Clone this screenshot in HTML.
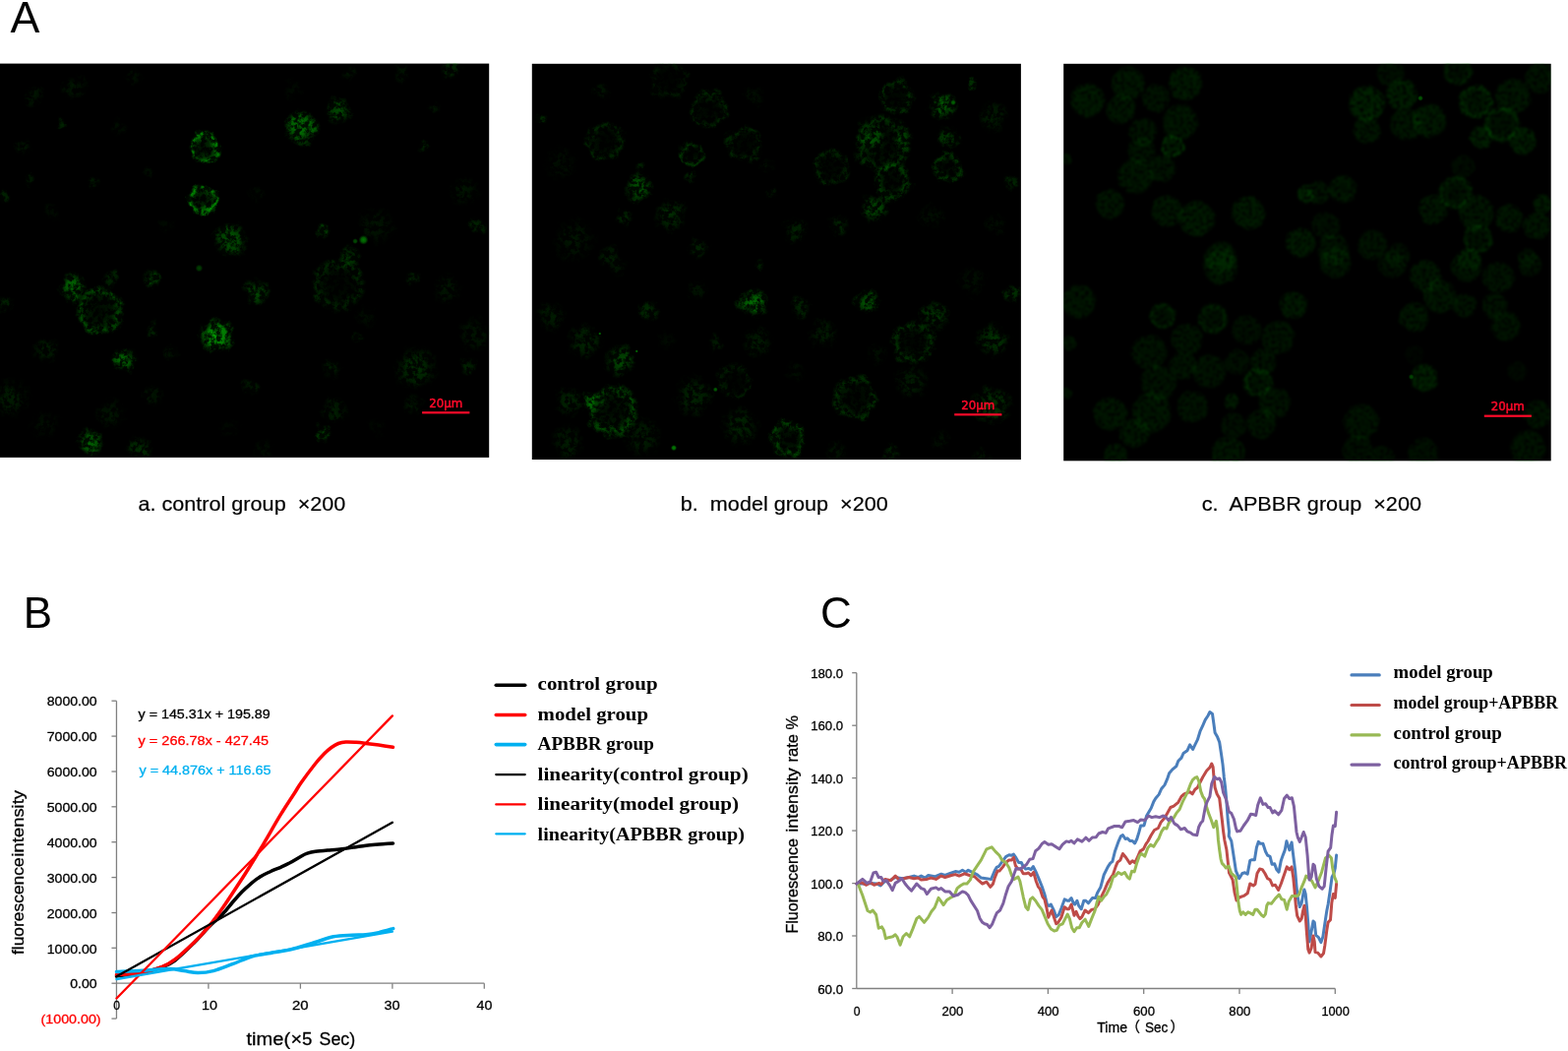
<!DOCTYPE html>
<html lang="en"><head><meta charset="utf-8"><title>Figure</title>
<style>
html,body{margin:0;padding:0;background:#fff;}
body{width:1594px;height:1068px;overflow:hidden;}
svg{display:block;}
text{font-family:"Liberation Sans",sans-serif;fill:#000;}
.w{stroke:#000;stroke-width:.3px;}
.wr{fill:#ff0000;stroke:#ff0000;stroke-width:.3px;}
.wc{fill:#00b0f0;stroke:#00b0f0;stroke-width:.3px;}
.ser{font-family:"Liberation Serif",serif;font-weight:bold;}
.sb{font-family:"DejaVu Sans","Liberation Sans",sans-serif;fill:#ff0a2a;stroke:#ff0a2a;stroke-width:.5px;font-size:11.4px;}
.cjk{font-family:"Liberation Sans","Noto Sans CJK SC",sans-serif;}
</style></head><body>
<svg width="1594" height="1068" viewBox="0 0 1594 1068">
<defs>
<filter id="speck" x="0" y="60" width="1040" height="410" filterUnits="userSpaceOnUse" color-interpolation-filters="sRGB">
<feTurbulence type="fractalNoise" baseFrequency="0.07" numOctaves="2" seed="4" result="lo"/>
<feDisplacementMap in="SourceGraphic" in2="lo" scale="12" xChannelSelector="R" yChannelSelector="G" result="d"/>
<feTurbulence type="fractalNoise" baseFrequency="0.2" numOctaves="4" seed="7" result="n"/>
<feColorMatrix in="n" type="matrix" values="0 0 0 0 0  0 0 0 0 0  0 0 0 0 0  0 4 0 0 -1.55" result="a"/>
<feComposite in="d" in2="a" operator="in" result="c"/>
<feColorMatrix in="d" type="matrix" values="1 0 0 0 0  0 1 0 0 0  0 0 1 0 0  0 0 0 0.14 0" result="base"/>
<feMerge result="m"><feMergeNode in="base"/><feMergeNode in="c"/></feMerge>
<feGaussianBlur in="m" stdDeviation="0.6"/>
</filter>
<filter id="soft" x="1080" y="60" width="500" height="412" filterUnits="userSpaceOnUse" color-interpolation-filters="sRGB">
<feTurbulence type="fractalNoise" baseFrequency="0.09" numOctaves="2" seed="9" result="lo"/>
<feDisplacementMap in="SourceGraphic" in2="lo" scale="4" xChannelSelector="R" yChannelSelector="G" result="d"/>
<feTurbulence type="fractalNoise" baseFrequency="0.3" numOctaves="3" seed="11" result="n"/>
<feColorMatrix in="n" type="matrix" values="0 0 0 0 0  0 0 0 0 0  0 0 0 0 0  0 3.2 0 0 -0.85" result="a"/>
<feComposite in="d" in2="a" operator="in" result="c"/>
<feGaussianBlur in="c" stdDeviation="0.8"/>
</filter>
<radialGradient id="blob"><stop offset="0" stop-color="#02a002" stop-opacity="1"/><stop offset="0.5" stop-color="#029002" stop-opacity="0.8"/><stop offset="1" stop-color="#016001" stop-opacity="0"/></radialGradient>
<radialGradient id="ring"><stop offset="0" stop-color="#015a01" stop-opacity="0.2"/><stop offset="0.5" stop-color="#027402" stop-opacity="0.4"/><stop offset="0.78" stop-color="#02a002" stop-opacity="1"/><stop offset="1" stop-color="#016001" stop-opacity="0"/></radialGradient>
<radialGradient id="disc"><stop offset="0" stop-color="#028c02" stop-opacity="0.6"/><stop offset="0.65" stop-color="#028c02" stop-opacity="0.7"/><stop offset="0.85" stop-color="#028c02" stop-opacity="0.62"/><stop offset="1" stop-color="#016001" stop-opacity="0"/></radialGradient>
<radialGradient id="dring"><stop offset="0" stop-color="#028c02" stop-opacity="0.45"/><stop offset="0.6" stop-color="#028c02" stop-opacity="0.6"/><stop offset="0.82" stop-color="#02a002" stop-opacity="1"/><stop offset="1" stop-color="#016001" stop-opacity="0"/></radialGradient>
<clipPath id="cp1"><rect x="0" y="64.6" width="497.2" height="400.3"/></clipPath>
<clipPath id="cp2"><rect x="540.8" y="64.8" width="497.1" height="402.2"/></clipPath>
<clipPath id="cp3"><rect x="1081.2" y="64.8" width="495.5" height="403.5"/></clipPath>
</defs>
<rect x="0" y="0" width="1594" height="1068" fill="#fff"/>
<rect x="0" y="64.6" width="497.2" height="400.3" fill="#000"/>
<rect x="540.8" y="64.8" width="497.1" height="402.2" fill="#000"/>
<rect x="1081.2" y="64.8" width="495.5" height="403.5" fill="#000"/>
<g clip-path="url(#cp1)"><g filter="url(#speck)"><circle cx="207.1" cy="150.6" r="18.0" fill="url(#ring)" opacity="0.75"/><circle cx="205.2" cy="203.3" r="16.8" fill="url(#ring)" opacity="0.81"/><circle cx="235.3" cy="244.7" r="20.4" fill="url(#blob)" opacity="0.51"/><circle cx="33.9" cy="96.0" r="12.0" fill="url(#blob)" opacity="0.12"/><circle cx="75.3" cy="88.5" r="14.4" fill="url(#blob)" opacity="0.12"/><circle cx="62.1" cy="125.2" r="6.0" fill="url(#blob)" opacity="0.21"/><circle cx="22.6" cy="148.7" r="9.6" fill="url(#blob)" opacity="0.12"/><circle cx="30.1" cy="182.6" r="7.2" fill="url(#blob)" opacity="0.16"/><circle cx="96.0" cy="186.4" r="7.2" fill="url(#blob)" opacity="0.16"/><circle cx="4.7" cy="198.6" r="7.2" fill="url(#blob)" opacity="0.21"/><circle cx="120.5" cy="129.9" r="9.6" fill="url(#blob)" opacity="0.08"/><circle cx="135.5" cy="79.1" r="9.6" fill="url(#blob)" opacity="0.08"/><circle cx="150.6" cy="177.0" r="7.2" fill="url(#blob)" opacity="0.08"/><circle cx="52.7" cy="216.5" r="9.6" fill="url(#blob)" opacity="0.08"/><circle cx="169.4" cy="229.7" r="9.6" fill="url(#blob)" opacity="0.06"/><circle cx="306.5" cy="129.9" r="19.2" fill="url(#blob)" opacity="0.75"/><circle cx="344.1" cy="112.0" r="15.6" fill="url(#blob)" opacity="0.41"/><circle cx="329.1" cy="234.4" r="9.6" fill="url(#blob)" opacity="0.41"/><circle cx="430.7" cy="148.7" r="7.2" fill="url(#blob)" opacity="0.21"/><circle cx="459.0" cy="69.6" r="12.0" fill="url(#blob)" opacity="0.21"/><circle cx="442.0" cy="109.2" r="7.2" fill="url(#blob)" opacity="0.12"/><circle cx="408.1" cy="75.3" r="9.6" fill="url(#blob)" opacity="0.12"/><circle cx="355.4" cy="75.3" r="9.6" fill="url(#blob)" opacity="0.12"/><circle cx="472.1" cy="193.9" r="16.8" fill="url(#blob)" opacity="0.12"/><circle cx="485.3" cy="229.7" r="9.6" fill="url(#blob)" opacity="0.21"/><circle cx="381.8" cy="229.7" r="21.6" fill="url(#blob)" opacity="0.12"/><circle cx="355.4" cy="261.7" r="12.0" fill="url(#blob)" opacity="0.30"/><circle cx="261.3" cy="195.8" r="9.6" fill="url(#blob)" opacity="0.08"/><circle cx="297.1" cy="90.4" r="12.0" fill="url(#blob)" opacity="0.06"/><circle cx="73.4" cy="291.4" r="15.6" fill="url(#blob)" opacity="0.63"/><circle cx="101.7" cy="315.8" r="26.4" fill="url(#ring)" opacity="0.41"/><circle cx="154.4" cy="284.8" r="10.8" fill="url(#blob)" opacity="0.41"/><circle cx="113.0" cy="282.9" r="9.6" fill="url(#blob)" opacity="0.21"/><circle cx="219.3" cy="341.2" r="19.2" fill="url(#blob)" opacity="1.00"/><circle cx="126.1" cy="365.7" r="13.2" fill="url(#blob)" opacity="0.63"/><circle cx="156.2" cy="334.7" r="9.6" fill="url(#blob)" opacity="0.21"/><circle cx="47.1" cy="355.4" r="14.4" fill="url(#blob)" opacity="0.16"/><circle cx="11.3" cy="404.3" r="21.6" fill="url(#blob)" opacity="0.16"/><circle cx="92.2" cy="449.5" r="15.6" fill="url(#blob)" opacity="0.57"/><circle cx="141.2" cy="457.0" r="14.4" fill="url(#blob)" opacity="0.26"/><circle cx="5.6" cy="308.3" r="9.6" fill="url(#blob)" opacity="0.21"/><circle cx="154.4" cy="402.4" r="12.0" fill="url(#blob)" opacity="0.12"/><circle cx="113.0" cy="421.2" r="16.8" fill="url(#blob)" opacity="0.12"/><circle cx="45.2" cy="430.7" r="16.8" fill="url(#blob)" opacity="0.08"/><circle cx="233.4" cy="434.4" r="12.0" fill="url(#blob)" opacity="0.05"/><circle cx="173.2" cy="357.2" r="9.6" fill="url(#blob)" opacity="0.12"/><circle cx="261.3" cy="297.0" r="14.4" fill="url(#blob)" opacity="0.41"/><circle cx="344.1" cy="289.5" r="28.8" fill="url(#ring)" opacity="0.21"/><circle cx="419.4" cy="281.9" r="9.6" fill="url(#blob)" opacity="0.21"/><circle cx="455.2" cy="293.2" r="16.8" fill="url(#blob)" opacity="0.12"/><circle cx="481.6" cy="340.3" r="19.2" fill="url(#blob)" opacity="0.12"/><circle cx="423.2" cy="374.2" r="24.0" fill="url(#blob)" opacity="0.26"/><circle cx="336.6" cy="376.1" r="12.0" fill="url(#blob)" opacity="0.16"/><circle cx="340.4" cy="417.5" r="14.4" fill="url(#blob)" opacity="0.16"/><circle cx="329.1" cy="440.1" r="9.6" fill="url(#blob)" opacity="0.41"/><circle cx="363.0" cy="344.1" r="7.2" fill="url(#blob)" opacity="0.16"/><circle cx="253.8" cy="393.0" r="9.6" fill="url(#blob)" opacity="0.16"/><circle cx="475.9" cy="372.3" r="9.6" fill="url(#blob)" opacity="0.21"/><circle cx="372.4" cy="321.5" r="12.0" fill="url(#blob)" opacity="0.08"/><circle cx="419.4" cy="411.8" r="12.0" fill="url(#blob)" opacity="0.12"/><circle cx="268.8" cy="457.0" r="12.0" fill="url(#blob)" opacity="0.08"/><circle cx="381.8" cy="434.4" r="12.0" fill="url(#blob)" opacity="0.05"/></g><circle cx="369.5" cy="243.8" r="5.0" fill="url(#blob)" opacity="0.75"/><circle cx="361.1" cy="245.1" r="3.0" fill="url(#blob)" opacity="0.51"/><circle cx="202.4" cy="272.5" r="4.0" fill="url(#blob)" opacity="0.41"/></g>
<g clip-path="url(#cp2)"><g filter="url(#speck)"><circle cx="649.2" cy="190.1" r="16.8" fill="url(#blob)" opacity="0.51"/><circle cx="615.3" cy="143.1" r="21.6" fill="url(#ring)" opacity="0.21"/><circle cx="679.3" cy="80.9" r="21.6" fill="url(#ring)" opacity="0.12"/><circle cx="720.7" cy="111.1" r="21.6" fill="url(#ring)" opacity="0.21"/><circle cx="703.8" cy="156.2" r="14.4" fill="url(#ring)" opacity="0.30"/><circle cx="703.8" cy="180.7" r="7.2" fill="url(#blob)" opacity="0.21"/><circle cx="756.5" cy="146.8" r="20.4" fill="url(#ring)" opacity="0.21"/><circle cx="681.2" cy="218.4" r="18.0" fill="url(#blob)" opacity="0.26"/><circle cx="634.1" cy="220.2" r="9.6" fill="url(#blob)" opacity="0.21"/><circle cx="551.3" cy="120.5" r="7.2" fill="url(#blob)" opacity="0.30"/><circle cx="570.1" cy="165.7" r="19.2" fill="url(#blob)" opacity="0.08"/><circle cx="611.5" cy="92.2" r="9.6" fill="url(#blob)" opacity="0.12"/><circle cx="583.3" cy="244.7" r="24.0" fill="url(#blob)" opacity="0.12"/><circle cx="709.4" cy="254.1" r="12.0" fill="url(#blob)" opacity="0.21"/><circle cx="619.1" cy="259.8" r="12.0" fill="url(#blob)" opacity="0.16"/><circle cx="651.1" cy="169.4" r="6.0" fill="url(#blob)" opacity="0.21"/><circle cx="779.1" cy="169.4" r="9.6" fill="url(#blob)" opacity="0.08"/><circle cx="784.7" cy="195.8" r="7.2" fill="url(#blob)" opacity="0.12"/><circle cx="765.9" cy="97.9" r="12.0" fill="url(#blob)" opacity="0.08"/><circle cx="911.5" cy="98.8" r="19.2" fill="url(#ring)" opacity="0.26"/><circle cx="958.2" cy="107.8" r="16.8" fill="url(#blob)" opacity="0.51"/><circle cx="897.1" cy="145.5" r="31.2" fill="url(#ring)" opacity="0.26"/><circle cx="886.3" cy="141.9" r="15.6" fill="url(#blob)" opacity="0.46"/><circle cx="915.1" cy="141.9" r="10.8" fill="url(#blob)" opacity="0.30"/><circle cx="963.6" cy="140.1" r="14.4" fill="url(#blob)" opacity="0.35"/><circle cx="844.9" cy="170.7" r="20.4" fill="url(#ring)" opacity="0.21"/><circle cx="907.9" cy="185.1" r="20.4" fill="url(#ring)" opacity="0.32"/><circle cx="963.6" cy="170.7" r="16.8" fill="url(#ring)" opacity="0.30"/><circle cx="889.9" cy="212.0" r="16.8" fill="url(#blob)" opacity="0.41"/><circle cx="1008.5" cy="118.5" r="16.8" fill="url(#blob)" opacity="0.16"/><circle cx="1028.3" cy="185.1" r="9.6" fill="url(#blob)" opacity="0.21"/><circle cx="809.0" cy="233.6" r="14.4" fill="url(#blob)" opacity="0.21"/><circle cx="853.9" cy="228.2" r="12.0" fill="url(#blob)" opacity="0.21"/><circle cx="947.4" cy="219.2" r="14.4" fill="url(#blob)" opacity="0.08"/><circle cx="988.8" cy="86.2" r="6.0" fill="url(#blob)" opacity="0.30"/><circle cx="1012.1" cy="228.2" r="14.4" fill="url(#blob)" opacity="0.08"/><circle cx="765.9" cy="308.3" r="16.8" fill="url(#blob)" opacity="0.69"/><circle cx="630.4" cy="366.7" r="18.0" fill="url(#blob)" opacity="0.41"/><circle cx="622.8" cy="417.5" r="28.8" fill="url(#ring)" opacity="0.41"/><circle cx="602.1" cy="408.1" r="12.0" fill="url(#blob)" opacity="0.41"/><circle cx="594.6" cy="347.8" r="19.2" fill="url(#blob)" opacity="0.21"/><circle cx="558.8" cy="321.5" r="16.8" fill="url(#blob)" opacity="0.16"/><circle cx="658.6" cy="315.8" r="12.0" fill="url(#blob)" opacity="0.26"/><circle cx="705.7" cy="402.4" r="21.6" fill="url(#blob)" opacity="0.21"/><circle cx="747.1" cy="387.4" r="19.2" fill="url(#ring)" opacity="0.16"/><circle cx="752.7" cy="432.5" r="21.6" fill="url(#blob)" opacity="0.21"/><circle cx="653.0" cy="443.8" r="21.6" fill="url(#blob)" opacity="0.16"/><circle cx="577.7" cy="449.5" r="19.2" fill="url(#blob)" opacity="0.16"/><circle cx="769.7" cy="347.8" r="16.8" fill="url(#blob)" opacity="0.16"/><circle cx="728.3" cy="347.8" r="9.6" fill="url(#blob)" opacity="0.16"/><circle cx="709.4" cy="295.1" r="12.0" fill="url(#blob)" opacity="0.12"/><circle cx="626.6" cy="270.6" r="12.0" fill="url(#blob)" opacity="0.12"/><circle cx="773.4" cy="268.8" r="6.0" fill="url(#blob)" opacity="0.21"/><circle cx="677.4" cy="345.9" r="12.0" fill="url(#blob)" opacity="0.06"/><circle cx="577.7" cy="408.1" r="16.8" fill="url(#blob)" opacity="0.21"/><circle cx="882.2" cy="306.4" r="14.4" fill="url(#blob)" opacity="0.51"/><circle cx="950.0" cy="319.6" r="15.6" fill="url(#blob)" opacity="0.35"/><circle cx="929.3" cy="347.8" r="24.0" fill="url(#ring)" opacity="0.26"/><circle cx="1010.3" cy="345.9" r="19.2" fill="url(#blob)" opacity="0.30"/><circle cx="1029.1" cy="298.9" r="9.6" fill="url(#blob)" opacity="0.30"/><circle cx="869.1" cy="404.3" r="24.0" fill="url(#ring)" opacity="0.26"/><circle cx="927.4" cy="387.4" r="19.2" fill="url(#blob)" opacity="0.16"/><circle cx="1008.4" cy="411.8" r="21.6" fill="url(#blob)" opacity="0.30"/><circle cx="801.3" cy="445.7" r="20.4" fill="url(#ring)" opacity="0.39"/><circle cx="814.5" cy="312.1" r="12.0" fill="url(#blob)" opacity="0.21"/><circle cx="837.1" cy="338.4" r="16.8" fill="url(#blob)" opacity="0.16"/><circle cx="808.8" cy="378.0" r="12.0" fill="url(#blob)" opacity="0.08"/><circle cx="906.7" cy="460.8" r="9.6" fill="url(#blob)" opacity="0.21"/><circle cx="997.1" cy="462.7" r="9.6" fill="url(#blob)" opacity="0.12"/><circle cx="850.2" cy="458.9" r="12.0" fill="url(#blob)" opacity="0.12"/><circle cx="987.7" cy="285.7" r="16.8" fill="url(#blob)" opacity="0.08"/><circle cx="955.7" cy="445.7" r="12.0" fill="url(#blob)" opacity="0.08"/><circle cx="891.7" cy="359.1" r="12.0" fill="url(#blob)" opacity="0.08"/></g><circle cx="969.0" cy="104.2" r="3.0" fill="url(#blob)" opacity="0.63"/><circle cx="605.9" cy="410.0" r="4.0" fill="url(#blob)" opacity="0.41"/><circle cx="727.3" cy="395.8" r="2.6" fill="url(#blob)" opacity="0.63"/><circle cx="685.0" cy="455.1" r="3.2" fill="url(#blob)" opacity="0.81"/><circle cx="609.7" cy="339.0" r="1.6" fill="url(#blob)" opacity="0.75"/><circle cx="647.3" cy="356.9" r="1.6" fill="url(#blob)" opacity="0.75"/></g>
<g clip-path="url(#cp3)"><g filter="url(#soft)"><circle cx="1105.5" cy="101.7" r="18.4" fill="url(#disc)" opacity="0.29"/><circle cx="1146.9" cy="84.7" r="18.4" fill="url(#disc)" opacity="0.25"/><circle cx="1139.4" cy="111.1" r="16.2" fill="url(#disc)" opacity="0.25"/><circle cx="1175.1" cy="99.8" r="15.1" fill="url(#disc)" opacity="0.22"/><circle cx="1205.2" cy="84.7" r="18.4" fill="url(#disc)" opacity="0.29"/><circle cx="1199.6" cy="124.2" r="19.4" fill="url(#disc)" opacity="0.25"/><circle cx="1161.9" cy="133.7" r="15.1" fill="url(#disc)" opacity="0.22"/><circle cx="1192.1" cy="148.7" r="13.0" fill="url(#dring)" opacity="0.36"/><circle cx="1160.1" cy="152.5" r="15.1" fill="url(#disc)" opacity="0.22"/><circle cx="1180.8" cy="171.3" r="15.1" fill="url(#disc)" opacity="0.22"/><circle cx="1154.4" cy="178.8" r="19.4" fill="url(#disc)" opacity="0.25"/><circle cx="1128.1" cy="207.1" r="16.2" fill="url(#disc)" opacity="0.25"/><circle cx="1186.4" cy="214.6" r="17.3" fill="url(#disc)" opacity="0.25"/><circle cx="1216.5" cy="222.1" r="19.4" fill="url(#disc)" opacity="0.29"/><circle cx="1269.3" cy="216.5" r="18.4" fill="url(#disc)" opacity="0.29"/><circle cx="1327.6" cy="197.7" r="9.7" fill="url(#disc)" opacity="0.36"/><circle cx="1322.0" cy="246.6" r="16.2" fill="url(#disc)" opacity="0.29"/><circle cx="1241.0" cy="261.7" r="17.3" fill="url(#disc)" opacity="0.25"/><circle cx="1083.8" cy="161.9" r="6.5" fill="url(#disc)" opacity="0.22"/><circle cx="1389.4" cy="105.4" r="19.4" fill="url(#disc)" opacity="0.36"/><circle cx="1425.1" cy="96.0" r="17.3" fill="url(#disc)" opacity="0.32"/><circle cx="1389.4" cy="131.8" r="15.1" fill="url(#disc)" opacity="0.25"/><circle cx="1428.9" cy="126.1" r="17.3" fill="url(#disc)" opacity="0.25"/><circle cx="1453.4" cy="122.4" r="18.4" fill="url(#disc)" opacity="0.29"/><circle cx="1413.8" cy="73.4" r="15.1" fill="url(#disc)" opacity="0.18"/><circle cx="1481.6" cy="71.5" r="16.2" fill="url(#dring)" opacity="0.22"/><circle cx="1500.4" cy="103.5" r="18.4" fill="url(#dring)" opacity="0.29"/><circle cx="1538.1" cy="97.9" r="19.4" fill="url(#disc)" opacity="0.25"/><circle cx="1566.3" cy="79.1" r="17.3" fill="url(#disc)" opacity="0.22"/><circle cx="1526.8" cy="126.1" r="19.4" fill="url(#dring)" opacity="0.25"/><circle cx="1506.1" cy="139.3" r="13.0" fill="url(#disc)" opacity="0.32"/><circle cx="1547.5" cy="143.1" r="15.1" fill="url(#disc)" opacity="0.32"/><circle cx="1364.9" cy="192.0" r="15.1" fill="url(#disc)" opacity="0.25"/><circle cx="1340.4" cy="195.8" r="13.0" fill="url(#disc)" opacity="0.22"/><circle cx="1487.2" cy="169.4" r="13.0" fill="url(#disc)" opacity="0.14"/><circle cx="1479.7" cy="195.8" r="18.4" fill="url(#dring)" opacity="0.25"/><circle cx="1457.1" cy="212.7" r="16.2" fill="url(#disc)" opacity="0.25"/><circle cx="1500.4" cy="216.5" r="19.4" fill="url(#disc)" opacity="0.25"/><circle cx="1534.3" cy="222.1" r="15.1" fill="url(#disc)" opacity="0.25"/><circle cx="1568.2" cy="207.1" r="10.8" fill="url(#disc)" opacity="0.29"/><circle cx="1562.6" cy="229.7" r="15.1" fill="url(#disc)" opacity="0.25"/><circle cx="1502.3" cy="242.8" r="16.2" fill="url(#dring)" opacity="0.25"/><circle cx="1347.9" cy="229.7" r="15.1" fill="url(#disc)" opacity="0.18"/><circle cx="1395.0" cy="248.5" r="16.2" fill="url(#disc)" opacity="0.22"/><circle cx="1355.5" cy="254.1" r="17.3" fill="url(#disc)" opacity="0.22"/><circle cx="1421.4" cy="259.8" r="13.0" fill="url(#disc)" opacity="0.18"/><circle cx="1492.9" cy="263.5" r="13.0" fill="url(#disc)" opacity="0.18"/><circle cx="1553.1" cy="261.7" r="10.8" fill="url(#disc)" opacity="0.14"/><circle cx="1240.7" cy="270.7" r="19.4" fill="url(#disc)" opacity="0.25"/><circle cx="1096.2" cy="306.8" r="18.4" fill="url(#disc)" opacity="0.25"/><circle cx="1181.8" cy="321.1" r="14.0" fill="url(#dring)" opacity="0.25"/><circle cx="1233.1" cy="323.9" r="16.2" fill="url(#dring)" opacity="0.25"/><circle cx="1314.8" cy="310.6" r="15.1" fill="url(#disc)" opacity="0.29"/><circle cx="1267.3" cy="335.3" r="16.2" fill="url(#disc)" opacity="0.18"/><circle cx="1299.6" cy="342.9" r="18.4" fill="url(#disc)" opacity="0.22"/><circle cx="1206.5" cy="344.8" r="17.3" fill="url(#disc)" opacity="0.22"/><circle cx="1168.5" cy="358.2" r="19.4" fill="url(#disc)" opacity="0.22"/><circle cx="1257.8" cy="367.7" r="14.0" fill="url(#disc)" opacity="0.18"/><circle cx="1284.4" cy="367.7" r="14.0" fill="url(#disc)" opacity="0.22"/><circle cx="1202.7" cy="371.5" r="15.1" fill="url(#disc)" opacity="0.22"/><circle cx="1229.3" cy="377.2" r="18.4" fill="url(#disc)" opacity="0.22"/><circle cx="1178.0" cy="388.6" r="19.4" fill="url(#disc)" opacity="0.22"/><circle cx="1278.7" cy="388.6" r="16.2" fill="url(#dring)" opacity="0.29"/><circle cx="1295.8" cy="409.5" r="17.3" fill="url(#disc)" opacity="0.22"/><circle cx="1252.1" cy="407.6" r="8.6" fill="url(#disc)" opacity="0.29"/><circle cx="1212.2" cy="413.3" r="17.3" fill="url(#disc)" opacity="0.22"/><circle cx="1170.4" cy="419.0" r="21.6" fill="url(#disc)" opacity="0.25"/><circle cx="1128.5" cy="420.9" r="18.4" fill="url(#disc)" opacity="0.25"/><circle cx="1153.2" cy="439.9" r="16.2" fill="url(#disc)" opacity="0.25"/><circle cx="1254.0" cy="432.3" r="14.0" fill="url(#disc)" opacity="0.18"/><circle cx="1282.5" cy="430.4" r="16.2" fill="url(#disc)" opacity="0.22"/><circle cx="1248.3" cy="460.8" r="18.4" fill="url(#disc)" opacity="0.25"/><circle cx="1134.2" cy="462.7" r="13.0" fill="url(#disc)" opacity="0.25"/><circle cx="1086.7" cy="348.7" r="8.6" fill="url(#disc)" opacity="0.22"/><circle cx="1083.9" cy="400.0" r="6.5" fill="url(#disc)" opacity="0.22"/><circle cx="1357.6" cy="266.9" r="17.3" fill="url(#disc)" opacity="0.22"/><circle cx="1414.7" cy="268.8" r="15.1" fill="url(#disc)" opacity="0.18"/><circle cx="1448.9" cy="280.2" r="17.3" fill="url(#disc)" opacity="0.25"/><circle cx="1490.7" cy="270.7" r="17.3" fill="url(#disc)" opacity="0.22"/><circle cx="1523.0" cy="282.1" r="17.3" fill="url(#disc)" opacity="0.22"/><circle cx="1555.3" cy="268.8" r="13.0" fill="url(#disc)" opacity="0.18"/><circle cx="1464.1" cy="301.1" r="18.4" fill="url(#disc)" opacity="0.25"/><circle cx="1437.5" cy="322.0" r="16.2" fill="url(#disc)" opacity="0.25"/><circle cx="1488.8" cy="310.6" r="13.0" fill="url(#disc)" opacity="0.22"/><circle cx="1519.2" cy="310.6" r="14.0" fill="url(#disc)" opacity="0.22"/><circle cx="1530.6" cy="331.5" r="16.2" fill="url(#disc)" opacity="0.22"/><circle cx="1447.9" cy="383.8" r="15.1" fill="url(#disc)" opacity="0.36"/><circle cx="1542.0" cy="377.2" r="10.8" fill="url(#disc)" opacity="0.11"/><circle cx="1384.2" cy="428.5" r="19.4" fill="url(#disc)" opacity="0.22"/><circle cx="1562.9" cy="420.9" r="15.1" fill="url(#disc)" opacity="0.22"/><circle cx="1553.4" cy="455.1" r="19.4" fill="url(#disc)" opacity="0.22"/><circle cx="1380.4" cy="457.0" r="17.3" fill="url(#disc)" opacity="0.18"/><circle cx="1405.1" cy="464.6" r="13.0" fill="url(#disc)" opacity="0.18"/><circle cx="1447.0" cy="460.8" r="17.3" fill="url(#disc)" opacity="0.18"/><circle cx="1437.5" cy="360.1" r="10.8" fill="url(#disc)" opacity="0.07"/></g><circle cx="1444.0" cy="99.8" r="3.0" fill="url(#blob)" opacity="0.58"/><circle cx="1434.6" cy="382.9" r="3.0" fill="url(#blob)" opacity="0.43"/></g>
<rect x="429.1" y="418.2" width="48.3" height="2.2" fill="#ff0a2a"/><text class="sb" x="436.2" y="414.3" textLength="34.1" lengthAdjust="spacingAndGlyphs">20μm</text>
<rect x="970.2" y="420.2" width="48.2" height="2.2" fill="#ff0a2a"/><text class="sb" x="977.3" y="416.3" textLength="34.1" lengthAdjust="spacingAndGlyphs">20μm</text>
<rect x="1508.8" y="421.6" width="48.1" height="2.2" fill="#ff0a2a"/><text class="sb" x="1515.7" y="417.4" textLength="34.2" lengthAdjust="spacingAndGlyphs">20μm</text>
<text x="10.6" y="32.8" font-size="44.8">A</text>
<text x="23.8" y="638" font-size="44">B</text>
<text x="833.9" y="638.4" font-size="44">C</text>
<text x="140.4" y="518.8" font-size="21" style="stroke:#000;stroke-width:.2px" textLength="211.0" lengthAdjust="spacingAndGlyphs" xml:space="preserve">a. control group  ×200</text>
<text x="691.8" y="518.8" font-size="21" style="stroke:#000;stroke-width:.2px" textLength="211.0" lengthAdjust="spacingAndGlyphs" xml:space="preserve">b.  model group  ×200</text>
<text x="1221.8" y="518.8" font-size="21" style="stroke:#000;stroke-width:.2px" textLength="223.2" lengthAdjust="spacingAndGlyphs" xml:space="preserve">c.  APBBR group  ×200</text>
<path d="M118.45 712.2 V1035.1" stroke="#808080" stroke-width="1.3" fill="none"/>
<path d="M118.45 999.2 H492.3" stroke="#808080" stroke-width="1.3" fill="none"/>
<path d="M113.45 1035.1 H118.45" stroke="#808080" stroke-width="1.3"/>
<path d="M113.45 999.2 H118.45" stroke="#808080" stroke-width="1.3"/>
<path d="M113.45 963.3 H118.45" stroke="#808080" stroke-width="1.3"/>
<path d="M113.45 927.5 H118.45" stroke="#808080" stroke-width="1.3"/>
<path d="M113.45 891.6 H118.45" stroke="#808080" stroke-width="1.3"/>
<path d="M113.45 855.7 H118.45" stroke="#808080" stroke-width="1.3"/>
<path d="M113.45 819.8 H118.45" stroke="#808080" stroke-width="1.3"/>
<path d="M113.45 784.0 H118.45" stroke="#808080" stroke-width="1.3"/>
<path d="M113.45 748.1 H118.45" stroke="#808080" stroke-width="1.3"/>
<path d="M113.45 712.2 H118.45" stroke="#808080" stroke-width="1.3"/>
<path d="M211.9 999.2 V1004.7" stroke="#808080" stroke-width="1.3"/>
<path d="M305.4 999.2 V1004.7" stroke="#808080" stroke-width="1.3"/>
<path d="M398.9 999.2 V1004.7" stroke="#808080" stroke-width="1.3"/>
<path d="M492.3 999.2 V1004.7" stroke="#808080" stroke-width="1.3"/>
<text class="w" x="71.2" y="1004.4" font-size="13.4" textLength="27.5" lengthAdjust="spacingAndGlyphs">0.00</text>
<text class="w" x="47.7" y="968.5" font-size="13.4" textLength="51.0" lengthAdjust="spacingAndGlyphs">1000.00</text>
<text class="w" x="47.7" y="932.7" font-size="13.4" textLength="51.0" lengthAdjust="spacingAndGlyphs">2000.00</text>
<text class="w" x="47.7" y="896.8" font-size="13.4" textLength="51.0" lengthAdjust="spacingAndGlyphs">3000.00</text>
<text class="w" x="47.7" y="860.9" font-size="13.4" textLength="51.0" lengthAdjust="spacingAndGlyphs">4000.00</text>
<text class="w" x="47.7" y="825.0" font-size="13.4" textLength="51.0" lengthAdjust="spacingAndGlyphs">5000.00</text>
<text class="w" x="47.7" y="789.2" font-size="13.4" textLength="51.0" lengthAdjust="spacingAndGlyphs">6000.00</text>
<text class="w" x="47.7" y="753.3" font-size="13.4" textLength="51.0" lengthAdjust="spacingAndGlyphs">7000.00</text>
<text class="w" x="47.7" y="717.4" font-size="13.4" textLength="51.0" lengthAdjust="spacingAndGlyphs">8000.00</text>
<text class="wr" x="41.6" y="1040.3" font-size="13.4" textLength="61" lengthAdjust="spacingAndGlyphs">(1000.00)</text>
<text class="w" x="115.2" y="1025.8" font-size="13" textLength="6.8" lengthAdjust="spacingAndGlyphs">0</text>
<text class="w" x="205.1" y="1025.8" font-size="13" textLength="16.0" lengthAdjust="spacingAndGlyphs">10</text>
<text class="w" x="297.0" y="1025.8" font-size="13" textLength="16.6" lengthAdjust="spacingAndGlyphs">20</text>
<text class="w" x="390.5" y="1025.8" font-size="13" textLength="16.2" lengthAdjust="spacingAndGlyphs">30</text>
<text class="w" x="484.6" y="1025.8" font-size="13" textLength="15.9" lengthAdjust="spacingAndGlyphs">40</text>
<text class="w" transform="translate(24.3 970) rotate(-90)" font-size="16.5"><tspan x="0" textLength="98.6" lengthAdjust="spacingAndGlyphs">fluorescence</tspan><tspan x="94.4" textLength="72.6" lengthAdjust="spacingAndGlyphs"> intensity</tspan></text>
<text class="w" y="1061.6" font-size="18.5"><tspan x="250.5" textLength="44.6" lengthAdjust="spacingAndGlyphs">time(</tspan><tspan x="295.6" textLength="11.6" lengthAdjust="spacingAndGlyphs">×</tspan><tspan x="307" textLength="10.4" lengthAdjust="spacingAndGlyphs">5</tspan><tspan x="319.6" textLength="41.6" lengthAdjust="spacingAndGlyphs"> Sec)</tspan></text>
<text class="w" x="140.6" y="729.9" font-size="13.6" textLength="134.1" lengthAdjust="spacingAndGlyphs">y = 145.31x + 195.89</text>
<text class="wr" x="140.6" y="757.1" font-size="13.6" textLength="132.4" lengthAdjust="spacingAndGlyphs">y = 266.78x - 427.45</text>
<text class="wc" x="141.5" y="786.5" font-size="13.6" textLength="134" lengthAdjust="spacingAndGlyphs">y = 44.876x + 116.65</text>
<path d="M118.5 992.0 C122.5 991.5 135.2 990.2 142.8 988.7 C150.4 987.2 158.5 985.1 164.3 983.0 C170.2 980.9 172.4 980.2 177.9 976.0 C183.4 971.8 191.7 963.6 197.4 958.0 C203.1 952.4 207.1 947.2 212.0 942.3 C216.9 937.4 222.5 932.7 226.6 928.5 C230.7 924.3 233.1 920.7 236.3 917.0 C239.5 913.3 242.8 909.6 246.0 906.3 C249.2 903.0 252.7 899.9 255.8 897.3 C258.9 894.7 261.6 892.7 264.8 890.7 C268.0 888.7 271.8 887.1 275.2 885.5 C278.6 883.9 282.1 882.8 285.4 881.3 C288.6 879.8 291.3 878.6 294.7 876.8 C298.1 874.9 303.1 871.8 306.0 870.2 C308.9 868.6 310.0 868.0 312.4 867.2 C314.8 866.4 317.2 865.8 320.6 865.3 C324.0 864.8 328.5 864.4 333.0 864.0 C337.5 863.6 342.9 863.2 347.4 862.7 C351.9 862.2 355.9 861.6 360.0 861.0 C364.1 860.4 367.8 859.7 372.0 859.2 C376.2 858.7 380.4 858.4 385.0 858.0 C389.6 857.6 397.1 857.2 399.5 857.0" fill="none" stroke="#000" stroke-width="3.5" stroke-linecap="round" stroke-linejoin="round"/>
<path d="M118.5 990.5 C122.5 990.2 135.2 989.8 142.8 988.5 C150.4 987.2 158.5 985.0 164.3 982.7 C170.2 980.4 172.4 979.1 177.9 974.9 C183.4 970.7 191.7 962.9 197.4 957.4 C203.1 951.9 207.1 947.6 212.0 941.8 C216.9 935.9 220.9 930.4 226.6 922.3 C232.3 914.2 239.6 902.9 246.0 893.0 C252.4 883.1 258.2 873.6 264.8 862.7 C271.4 851.8 279.5 837.3 285.4 827.7 C291.3 818.1 296.6 810.4 300.0 805.0 C303.4 799.6 302.6 800.3 306.0 795.5 C309.4 790.7 316.8 780.8 320.6 776.0 C324.4 771.2 326.3 769.2 329.0 766.5 C331.7 763.8 334.5 761.3 337.0 759.5 C339.5 757.7 341.6 756.4 344.0 755.5 C346.4 754.6 348.5 754.2 351.5 754.0 C354.5 753.8 358.6 754.1 362.0 754.3 C365.4 754.5 368.2 754.9 372.0 755.4 C375.8 755.9 380.4 756.5 385.0 757.1 C389.6 757.8 397.1 758.9 399.5 759.3" fill="none" stroke="#ff0000" stroke-width="3.5" stroke-linecap="round" stroke-linejoin="round"/>
<path d="M118.5 987.5 C122.9 987.3 136.1 986.8 145.0 986.3 C153.9 985.8 165.0 984.5 172.0 984.6 C179.0 984.7 182.1 986.0 187.0 986.6 C191.9 987.2 196.2 988.5 201.2 988.5 C206.2 988.5 211.0 988.1 216.8 986.6 C222.7 985.1 229.8 982.1 236.3 979.7 C242.8 977.3 249.3 973.9 255.8 972.0 C262.3 970.1 268.7 969.5 275.2 968.4 C281.7 967.2 287.3 966.9 294.7 965.1 C302.1 963.3 312.1 960.0 319.5 957.8 C326.9 955.6 332.6 953.0 339.0 951.8 C345.4 950.5 352.5 950.6 358.0 950.3 C363.5 950.0 367.5 950.2 372.0 949.8 C376.5 949.3 380.4 948.6 385.0 947.6 C389.6 946.6 397.2 944.3 399.7 943.6" fill="none" stroke="#00b0f0" stroke-width="3.5" stroke-linecap="round" stroke-linejoin="round"/>
<path d="M118.5 992.2 L398.9 835.8" fill="none" stroke="#000" stroke-width="2.3" stroke-linecap="round" stroke-linejoin="round"/>
<path d="M118.5 1014.5 L398.9 727.4" fill="none" stroke="#ff0000" stroke-width="2.3" stroke-linecap="round" stroke-linejoin="round"/>
<path d="M118.5 995.0 L398.9 946.7" fill="none" stroke="#00b0f0" stroke-width="2.3" stroke-linecap="round" stroke-linejoin="round"/>
<path d="M504.3 696.3 H533.7" fill="none" stroke="#000" stroke-width="3.6" stroke-linecap="round" stroke-linejoin="round"/>
<text class="ser" x="546.6" y="701.2" font-size="19.6" textLength="122.0" lengthAdjust="spacingAndGlyphs">control group</text>
<path d="M504.3 726.5 H533.7" fill="none" stroke="#ff0000" stroke-width="3.6" stroke-linecap="round" stroke-linejoin="round"/>
<text class="ser" x="546.6" y="731.5" font-size="19.6" textLength="112.4" lengthAdjust="spacingAndGlyphs">model group</text>
<path d="M504.3 756.6 H533.7" fill="none" stroke="#00b0f0" stroke-width="3.6" stroke-linecap="round" stroke-linejoin="round"/>
<text class="ser" x="546.6" y="762.0" font-size="19.6" textLength="118.3" lengthAdjust="spacingAndGlyphs">APBBR group</text>
<path d="M504.3 787.1 H533.7" fill="none" stroke="#000" stroke-width="2.3" stroke-linecap="round" stroke-linejoin="round"/>
<text class="ser" x="546.6" y="792.6" font-size="19.6" textLength="214.1" lengthAdjust="spacingAndGlyphs">linearity(control group)</text>
<path d="M504.3 817.4 H533.7" fill="none" stroke="#ff0000" stroke-width="2.3" stroke-linecap="round" stroke-linejoin="round"/>
<text class="ser" x="546.6" y="822.8" font-size="19.6" textLength="204.5" lengthAdjust="spacingAndGlyphs">linearity(model group)</text>
<path d="M504.3 847.3 H533.7" fill="none" stroke="#00b0f0" stroke-width="2.3" stroke-linecap="round" stroke-linejoin="round"/>
<text class="ser" x="546.6" y="853.6" font-size="19.6" textLength="210.3" lengthAdjust="spacingAndGlyphs">linearity(APBBR group)</text>
<path d="M870.8 683.7 V1004.5" stroke="#808080" stroke-width="1.3" fill="none"/>
<path d="M870.8 1004.5 H1357.3" stroke="#808080" stroke-width="1.3" fill="none"/>
<path d="M866.1999999999999 1004.5 H870.8" stroke="#808080" stroke-width="1.3"/>
<text class="w" x="831.2" y="1009.5" font-size="13" textLength="26.0" lengthAdjust="spacingAndGlyphs">60.0</text>
<path d="M866.1999999999999 951.0 H870.8" stroke="#808080" stroke-width="1.3"/>
<text class="w" x="831.2" y="956.0" font-size="13" textLength="26.0" lengthAdjust="spacingAndGlyphs">80.0</text>
<path d="M866.1999999999999 897.6 H870.8" stroke="#808080" stroke-width="1.3"/>
<text class="w" x="824.2" y="902.6" font-size="13" textLength="33.0" lengthAdjust="spacingAndGlyphs">100.0</text>
<path d="M866.1999999999999 844.1 H870.8" stroke="#808080" stroke-width="1.3"/>
<text class="w" x="824.2" y="849.1" font-size="13" textLength="33.0" lengthAdjust="spacingAndGlyphs">120.0</text>
<path d="M866.1999999999999 790.6 H870.8" stroke="#808080" stroke-width="1.3"/>
<text class="w" x="824.2" y="795.6" font-size="13" textLength="33.0" lengthAdjust="spacingAndGlyphs">140.0</text>
<path d="M866.1999999999999 737.2 H870.8" stroke="#808080" stroke-width="1.3"/>
<text class="w" x="824.2" y="742.2" font-size="13" textLength="33.0" lengthAdjust="spacingAndGlyphs">160.0</text>
<path d="M866.1999999999999 683.7 H870.8" stroke="#808080" stroke-width="1.3"/>
<text class="w" x="824.2" y="688.7" font-size="13" textLength="33.0" lengthAdjust="spacingAndGlyphs">180.0</text>
<text class="w" x="867.7" y="1031.5" font-size="13" textLength="6.8" lengthAdjust="spacingAndGlyphs">0</text>
<path d="M968.1 1004.5 V1010.0" stroke="#808080" stroke-width="1.3"/>
<text class="w" x="957.4" y="1031.5" font-size="13" textLength="22" lengthAdjust="spacingAndGlyphs">200</text>
<path d="M1065.4 1004.5 V1010.0" stroke="#808080" stroke-width="1.3"/>
<text class="w" x="1054.7" y="1031.5" font-size="13" textLength="22" lengthAdjust="spacingAndGlyphs">400</text>
<path d="M1162.7 1004.5 V1010.0" stroke="#808080" stroke-width="1.3"/>
<text class="w" x="1152.0" y="1031.5" font-size="13" textLength="22" lengthAdjust="spacingAndGlyphs">600</text>
<path d="M1260.0 1004.5 V1010.0" stroke="#808080" stroke-width="1.3"/>
<text class="w" x="1249.3" y="1031.5" font-size="13" textLength="22" lengthAdjust="spacingAndGlyphs">800</text>
<path d="M1357.3 1004.5 V1010.0" stroke="#808080" stroke-width="1.3"/>
<text class="w" x="1343.4" y="1031.5" font-size="13" textLength="28.4" lengthAdjust="spacingAndGlyphs">1000</text>
<text class="w" transform="translate(811.4 948.6) rotate(-90)" font-size="15.6"><tspan x="0" textLength="96.6" lengthAdjust="spacingAndGlyphs">Fluorescence</tspan><tspan x="98" textLength="70.4" lengthAdjust="spacingAndGlyphs"> intensity</tspan><tspan x="169.6" textLength="33" lengthAdjust="spacingAndGlyphs"> rate</tspan><tspan x="202.6" textLength="19" lengthAdjust="spacingAndGlyphs"> %</tspan></text>
<text class="cjk w" y="1049" font-size="15"><tspan x="1115.2" textLength="30.8" lengthAdjust="spacingAndGlyphs">Time</tspan><tspan x="1144.6" font-size="14.5">（</tspan><tspan x="1164" textLength="23.4" lengthAdjust="spacingAndGlyphs">Sec</tspan><tspan x="1189.4" font-size="14.5">）</tspan></text>
<path d="M870.9 898.0 L876.8 898.0 L884.7 897.4 L891.2 898.0 L895.1 900.0 L899.1 896.0 L905.6 894.1 L910.2 891.5 L917.4 892.8 L924.0 891.5 L929.2 890.1 L933.2 891.5 L936.4 890.1 L940.4 892.1 L943.7 889.5 L950.2 890.8 L956.8 888.2 L960.7 889.5 L965.9 887.5 L971.2 885.6 L975.1 886.2 L978.4 884.3 L981.7 886.2 L984.3 884.3 L989.5 886.9 L993.5 888.8 L997.4 892.1 L1004.2 892.9 L1007.5 893.6 L1011.4 884.4 L1013.4 881.1 L1015.3 880.5 L1018.6 875.9 L1022.5 870.6 L1025.8 868.7 L1028.4 869.3 L1030.4 868.0 L1033.0 871.9 L1035.6 876.5 L1038.3 876.5 L1040.2 880.5 L1042.8 883.1 L1045.5 882.4 L1048.1 883.7 L1050.3 880.5 L1052.7 885.1 L1056.0 892.9 L1059.2 900.8 L1061.9 908.7 L1064.5 919.1 L1066.4 920.4 L1068.4 919.1 L1071.0 924.4 L1073.7 931.6 L1076.3 929.6 L1078.9 923.1 L1082.2 913.9 L1084.8 915.2 L1086.8 915.2 L1089.1 912.6 L1091.3 917.8 L1092.7 919.1 L1094.9 915.2 L1096.6 920.4 L1099.2 923.7 L1101.8 915.2 L1103.8 915.2 L1106.4 917.8 L1110.4 912.6 L1113.6 912.6 L1115.6 907.3 L1118.9 901.4 L1122.2 889.0 L1126.1 881.1 L1128.7 877.2 L1130.9 875.4 L1133.5 864.9 L1136.8 855.7 L1139.4 849.8 L1141.4 848.5 L1144.0 852.5 L1146.0 851.8 L1148.6 854.4 L1151.2 854.4 L1153.6 857.0 L1155.8 852.5 L1157.8 845.9 L1159.7 838.9 L1163.0 838.9 L1165.6 829.0 L1170.2 821.2 L1172.8 814.6 L1174.8 811.3 L1178.1 807.4 L1180.7 801.5 L1184.0 797.6 L1186.6 791.7 L1188.6 785.8 L1191.9 781.9 L1195.8 778.6 L1197.8 773.3 L1201.0 770.1 L1203.0 765.5 L1206.9 762.8 L1209.6 756.9 L1212.6 761.5 L1214.8 756.9 L1217.4 751.7 L1220.0 743.2 L1222.7 737.3 L1225.3 731.4 L1227.9 727.5 L1229.9 723.5 L1232.5 725.5 L1233.8 734.7 L1235.1 744.5 L1237.7 749.1 L1239.7 754.3 L1241.7 767.4 L1243.0 776.6 L1244.3 789.7 L1245.6 800.2 L1246.9 814.6 L1248.2 833.0 L1249.5 844.8 L1249.2 849.5 L1251.8 854.7 L1254.4 871.8 L1256.4 884.9 L1259.7 892.7 L1262.9 887.5 L1265.6 886.8 L1268.2 888.1 L1270.8 874.4 L1272.8 873.7 L1275.4 873.7 L1277.4 861.3 L1279.3 855.4 L1281.3 857.3 L1283.9 857.3 L1286.5 865.2 L1288.5 869.1 L1291.1 870.4 L1293.1 878.3 L1295.7 877.7 L1297.7 883.6 L1300.0 886.2 L1302.3 874.4 L1304.2 869.1 L1306.2 863.9 L1307.9 854.7 L1310.8 863.9 L1313.1 856.0 L1314.7 869.1 L1316.7 884.9 L1318.0 900.6 L1319.3 912.4 L1321.3 921.6 L1323.2 917.6 L1324.6 909.8 L1325.9 903.9 L1327.2 908.5 L1328.5 921.6 L1329.8 938.6 L1331.1 957.0 L1333.1 946.5 L1335.0 936.0 L1336.3 937.3 L1337.7 950.4 L1340.3 952.4 L1342.9 957.6 L1344.9 951.7 L1346.8 938.6 L1348.8 925.5 L1350.1 919.0 L1352.1 905.8 L1354.0 891.4 L1356.0 887.5 L1357.3 882.2 L1358.6 869.1" fill="none" stroke="#4a7ebb" stroke-width="3" stroke-linecap="round" stroke-linejoin="round"/>
<path d="M870.9 898.0 L875.5 896.7 L880.7 899.3 L884.7 896.7 L888.6 899.3 L893.8 897.4 L895.8 898.7 L899.7 893.4 L905.6 894.7 L910.2 890.1 L914.2 894.1 L918.7 892.8 L924.0 891.5 L929.2 892.8 L933.2 892.1 L936.4 894.1 L942.3 893.4 L946.3 892.1 L951.5 893.4 L956.8 890.1 L960.7 891.5 L967.2 889.5 L971.2 888.6 L975.1 890.1 L980.4 887.8 L985.6 889.5 L990.8 890.8 L994.8 894.7 L998.7 898.0 L1002.9 896.2 L1006.8 901.4 L1009.4 898.2 L1011.4 891.6 L1014.0 885.1 L1016.0 885.1 L1019.3 881.1 L1022.5 876.5 L1025.8 873.9 L1028.4 873.9 L1030.4 871.3 L1032.4 879.8 L1035.0 883.1 L1037.6 883.1 L1040.2 887.7 L1043.5 887.7 L1045.5 887.0 L1048.1 889.6 L1050.7 886.4 L1053.3 895.5 L1055.3 900.8 L1057.3 903.4 L1059.9 911.3 L1061.9 913.9 L1063.8 921.8 L1065.8 932.2 L1069.1 925.0 L1071.0 930.9 L1073.7 938.8 L1075.6 937.5 L1078.9 932.2 L1082.2 921.8 L1084.8 923.7 L1086.8 923.7 L1089.1 919.1 L1092.0 930.3 L1094.0 926.3 L1095.9 930.9 L1097.9 933.6 L1099.9 931.6 L1103.1 925.0 L1106.4 927.7 L1109.7 924.4 L1113.0 923.7 L1116.3 919.1 L1119.5 911.3 L1122.8 904.7 L1126.1 896.9 L1128.7 892.9 L1131.6 888.5 L1134.2 880.6 L1136.1 876.1 L1138.8 874.1 L1141.4 867.5 L1144.7 871.5 L1148.6 877.4 L1151.2 874.7 L1153.8 876.7 L1156.5 870.8 L1159.1 864.9 L1162.4 862.9 L1165.0 857.7 L1166.9 855.0 L1170.2 848.7 L1173.5 843.5 L1177.4 841.5 L1180.1 835.6 L1184.0 831.0 L1186.6 826.4 L1189.9 820.5 L1193.2 819.2 L1197.8 815.3 L1201.0 809.4 L1203.7 806.8 L1207.6 805.4 L1209.6 804.8 L1212.2 806.8 L1214.8 802.2 L1217.4 800.2 L1220.0 795.0 L1222.7 789.7 L1226.6 783.2 L1229.9 779.9 L1231.8 776.0 L1233.1 779.2 L1234.1 791.0 L1235.1 800.2 L1237.1 806.8 L1239.7 811.3 L1241.0 822.5 L1242.3 833.0 L1243.6 844.8 L1244.9 854.0 L1246.9 863.5 L1248.2 875.3 L1249.5 887.1 L1250.5 888.8 L1253.1 894.0 L1255.1 907.2 L1257.0 915.0 L1260.3 911.7 L1264.3 910.4 L1268.2 907.8 L1270.8 898.0 L1274.1 899.9 L1276.0 898.6 L1278.0 887.5 L1280.6 882.9 L1283.3 883.6 L1285.9 887.5 L1288.5 892.7 L1291.1 894.0 L1293.7 899.9 L1296.4 899.3 L1299.6 904.5 L1302.3 898.0 L1305.5 888.8 L1308.2 880.9 L1310.8 883.6 L1313.1 880.9 L1314.7 891.4 L1316.0 904.5 L1317.3 920.3 L1318.7 930.7 L1321.3 936.0 L1323.2 933.4 L1324.6 925.5 L1325.9 920.3 L1327.2 930.7 L1328.5 949.1 L1329.8 964.8 L1331.1 968.1 L1333.1 963.5 L1335.0 951.1 L1336.3 957.0 L1337.0 967.5 L1339.6 968.1 L1342.9 972.0 L1345.5 968.8 L1346.8 960.9 L1348.8 945.2 L1350.1 937.3 L1352.5 934.7 L1353.8 917.6 L1355.4 908.5 L1357.3 912.4 L1358.6 898.0" fill="none" stroke="#be4b48" stroke-width="3" stroke-linecap="round" stroke-linejoin="round"/>
<path d="M872.2 898.0 L876.8 909.8 L882.0 925.5 L884.7 926.9 L887.3 925.1 L890.6 929.5 L893.2 943.2 L896.5 941.9 L898.4 945.2 L900.4 953.7 L904.3 952.4 L907.6 951.8 L910.2 949.8 L912.2 952.4 L915.1 960.3 L918.1 951.8 L921.4 948.5 L924.6 951.8 L927.9 943.9 L931.9 933.4 L934.5 931.4 L939.5 937.3 L943.7 932.1 L946.9 926.2 L950.2 922.3 L954.1 912.4 L956.1 915.1 L959.1 919.6 L962.7 914.4 L965.9 912.4 L969.9 910.5 L973.1 902.6 L976.4 900.0 L979.7 898.0 L983.0 898.0 L986.3 894.1 L989.5 885.6 L993.5 879.7 L997.4 873.8 L1002.9 862.8 L1008.1 860.8 L1012.0 865.4 L1016.0 869.3 L1018.6 873.9 L1022.5 876.5 L1025.8 881.8 L1028.4 889.6 L1031.0 893.6 L1035.0 891.0 L1036.9 895.5 L1040.2 911.3 L1042.8 921.8 L1045.1 924.4 L1047.4 913.9 L1049.8 911.9 L1052.7 915.2 L1056.0 920.4 L1059.2 924.4 L1061.9 930.9 L1065.1 938.8 L1068.4 944.0 L1071.7 946.0 L1074.3 945.4 L1076.9 940.1 L1080.2 938.8 L1082.8 933.6 L1085.2 929.0 L1087.4 933.6 L1089.6 942.7 L1092.0 946.7 L1094.6 942.7 L1097.2 942.7 L1099.9 937.5 L1103.1 934.2 L1106.7 941.4 L1109.7 933.6 L1113.0 925.7 L1114.9 917.8 L1116.9 911.3 L1119.5 915.2 L1122.2 911.3 L1124.8 908.7 L1128.7 900.8 L1131.6 891.1 L1134.2 889.8 L1136.8 886.5 L1140.1 888.5 L1143.4 886.5 L1146.0 891.1 L1148.3 893.1 L1150.6 885.2 L1153.2 885.9 L1155.8 876.7 L1158.4 869.5 L1160.4 867.5 L1163.7 870.2 L1166.9 861.6 L1169.6 858.4 L1172.8 860.3 L1175.5 855.7 L1178.1 851.8 L1180.7 845.2 L1183.3 841.3 L1186.0 842.0 L1187.9 836.9 L1190.5 833.0 L1193.2 831.0 L1195.8 826.4 L1199.1 822.5 L1202.3 814.6 L1205.0 809.4 L1207.6 804.1 L1210.2 796.9 L1212.6 792.3 L1214.8 790.4 L1216.8 789.5 L1218.7 793.7 L1220.7 804.1 L1222.7 809.4 L1224.6 812.0 L1226.6 819.9 L1228.6 826.4 L1231.2 833.0 L1233.8 840.8 L1236.4 834.3 L1237.7 843.5 L1238.4 853.2 L1239.7 863.7 L1241.0 872.8 L1242.3 877.4 L1244.3 879.4 L1246.3 882.0 L1248.9 880.0 L1249.2 880.3 L1251.8 887.5 L1256.4 891.4 L1257.7 904.5 L1259.0 917.6 L1260.3 925.5 L1261.6 929.4 L1263.6 926.8 L1266.2 929.4 L1268.8 926.8 L1271.5 928.1 L1273.8 929.4 L1276.0 924.2 L1278.0 924.2 L1280.6 927.5 L1282.6 930.1 L1284.6 931.4 L1286.5 928.8 L1287.8 920.3 L1289.2 917.6 L1292.4 918.3 L1296.4 913.1 L1300.3 909.1 L1302.9 913.7 L1305.5 914.4 L1308.2 924.2 L1310.1 916.3 L1313.4 910.4 L1318.7 910.4 L1320.6 909.1 L1322.6 903.2 L1325.9 895.4 L1327.8 890.1 L1331.1 892.7 L1333.7 895.4 L1337.0 901.9 L1339.6 896.7 L1343.6 886.2 L1347.5 871.8 L1350.8 869.1 L1353.4 871.8 L1354.7 882.2 L1356.7 891.4 L1358.6 896.0" fill="none" stroke="#98b954" stroke-width="3" stroke-linecap="round" stroke-linejoin="round"/>
<path d="M870.9 898.0 L876.8 893.4 L881.4 897.4 L884.7 896.0 L887.9 886.9 L890.6 886.2 L893.2 891.5 L895.8 891.5 L897.8 895.4 L901.0 894.7 L904.3 899.3 L907.2 904.6 L910.2 897.4 L913.5 895.4 L916.8 892.8 L920.1 898.0 L923.3 901.9 L926.6 905.2 L931.9 898.0 L936.4 902.6 L939.7 903.9 L942.3 908.5 L946.3 903.3 L951.5 901.9 L954.1 903.9 L956.8 902.6 L960.7 905.9 L965.3 906.1 L969.2 910.5 L973.8 909.2 L978.4 905.9 L981.7 907.2 L984.3 909.8 L986.9 915.1 L993.5 925.5 L996.1 933.4 L998.7 937.3 L1000.9 938.8 L1003.5 939.5 L1006.1 942.7 L1008.8 938.8 L1011.4 932.2 L1013.4 927.7 L1016.6 925.0 L1019.9 917.8 L1022.5 908.7 L1025.1 900.8 L1028.4 895.5 L1031.0 887.7 L1033.0 882.4 L1036.9 883.1 L1040.2 881.1 L1043.5 878.5 L1046.8 873.3 L1050.1 872.6 L1052.7 864.7 L1056.0 862.1 L1059.2 857.5 L1061.9 855.6 L1065.8 858.2 L1069.1 857.8 L1073.7 860.8 L1076.9 862.8 L1080.2 858.2 L1084.1 854.9 L1086.8 855.6 L1089.1 854.3 L1092.0 856.9 L1095.3 852.9 L1099.9 855.2 L1103.8 851.2 L1107.1 854.3 L1110.4 851.0 L1114.3 850.7 L1116.9 847.0 L1120.8 845.5 L1124.1 846.4 L1126.7 841.8 L1132.9 839.5 L1137.5 839.5 L1140.7 840.8 L1144.0 834.9 L1148.6 834.3 L1152.5 833.6 L1156.5 835.6 L1159.7 833.0 L1163.7 833.6 L1167.6 829.0 L1170.9 830.6 L1174.8 829.7 L1178.7 830.6 L1182.7 829.0 L1185.3 830.4 L1187.9 833.6 L1190.5 830.4 L1193.8 836.9 L1197.1 838.9 L1200.4 842.8 L1204.3 841.5 L1206.9 844.8 L1210.2 846.1 L1212.8 848.1 L1216.8 848.7 L1218.7 840.2 L1220.7 836.3 L1222.7 834.3 L1225.3 819.9 L1227.2 814.6 L1229.9 809.4 L1231.8 796.3 L1234.5 789.5 L1237.1 791.7 L1239.7 791.0 L1241.7 795.0 L1243.6 805.4 L1246.3 812.0 L1248.2 819.9 L1249.2 824.6 L1251.8 826.5 L1254.4 832.4 L1256.4 841.6 L1257.7 844.9 L1261.0 844.2 L1264.3 839.0 L1268.2 833.7 L1271.5 827.2 L1274.7 827.8 L1276.7 828.5 L1278.7 818.0 L1281.3 810.8 L1283.9 817.4 L1286.5 816.7 L1289.2 820.6 L1291.1 820.6 L1293.7 825.9 L1295.7 823.9 L1299.6 827.8 L1302.9 823.3 L1305.5 811.5 L1308.2 808.2 L1310.8 811.5 L1313.4 810.8 L1315.4 819.3 L1316.7 832.4 L1318.0 845.5 L1319.3 850.8 L1321.3 855.4 L1323.2 850.8 L1325.2 845.5 L1327.2 850.8 L1329.1 869.1 L1330.4 887.5 L1331.1 894.0 L1333.1 891.4 L1335.0 878.3 L1336.3 879.6 L1338.3 892.7 L1340.9 900.6 L1344.2 903.2 L1346.2 900.6 L1348.1 882.2 L1350.1 865.2 L1352.7 861.3 L1354.0 848.2 L1355.4 839.0 L1357.3 839.6 L1358.6 825.2" fill="none" stroke="#7d60a0" stroke-width="3" stroke-linecap="round" stroke-linejoin="round"/>
<path d="M1374 685.9 H1402.2" fill="none" stroke="#4a7ebb" stroke-width="3.2" stroke-linecap="round" stroke-linejoin="round"/>
<text class="ser" x="1416.5" y="688.6" font-size="19" textLength="101.3" lengthAdjust="spacingAndGlyphs">model group</text>
<path d="M1374 716.5 H1402.2" fill="none" stroke="#be4b48" stroke-width="3.2" stroke-linecap="round" stroke-linejoin="round"/>
<text class="ser" x="1416.5" y="720.2" font-size="19" textLength="167.5" lengthAdjust="spacingAndGlyphs">model group+APBBR</text>
<path d="M1374 746.9 H1402.2" fill="none" stroke="#98b954" stroke-width="3.2" stroke-linecap="round" stroke-linejoin="round"/>
<text class="ser" x="1416.5" y="750.8" font-size="19" textLength="110.2" lengthAdjust="spacingAndGlyphs">control group</text>
<path d="M1374 777.1 H1402.2" fill="none" stroke="#7d60a0" stroke-width="3.2" stroke-linecap="round" stroke-linejoin="round"/>
<text class="ser" x="1416.5" y="781.2" font-size="19" textLength="176.5" lengthAdjust="spacingAndGlyphs">control group+APBBR</text>
</svg></body></html>
